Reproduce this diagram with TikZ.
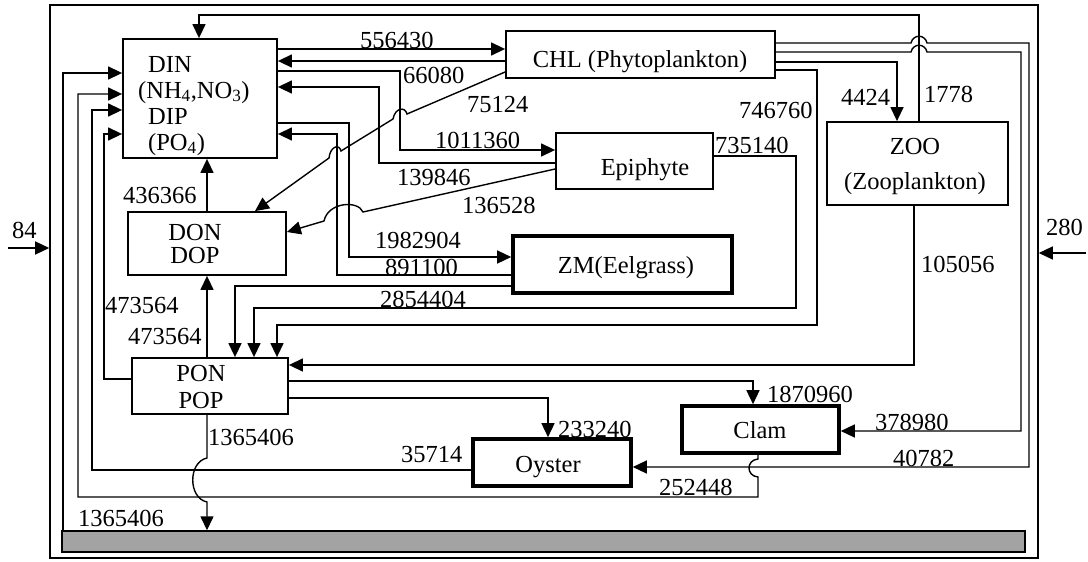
\documentclass[tikz,border=0pt]{standalone}
\usepackage{fontspec}
\setmainfont{Liberation Serif}
\usetikzlibrary{arrows.meta,calc}
\newcommand{\lblfont}{\fontsize{24.5}{28}\selectfont}
\begin{document}
\begin{tikzpicture}[x=1pt,y=-1pt,
  box/.style={draw,line width=1.8pt,inner sep=0pt},
  thickbox/.style={box,line width=3.6pt},
  flow/.style={line width=1.4pt,-{Triangle[length=14pt,width=13pt]}},
  lab/.style={anchor=base west,inner sep=0pt,font=\lblfont},
  txt/.style={anchor=base,inner sep=0pt,font=\lblfont},
  txtw/.style={anchor=base west,inner sep=0pt,font=\lblfont},
  txtm/.style={anchor=center,inner sep=0pt,align=center}]
\useasboundingbox (0,0) rectangle (1088,562);
% frame and sediment
\node[draw,line width=1.6pt,minimum width=988pt,minimum height=553pt,inner sep=0pt] (frame) at (544,281.5) {};
\node[draw,line width=1.4pt,fill=black!36,minimum width=963pt,minimum height=21pt,inner sep=0pt] (bar) at (543.5,541.5) {};
% boxes
\node[box,minimum width=154pt,minimum height=119pt] (din) at (200,98.5) {};
\node[box,minimum width=269pt,minimum height=47pt] (chl) at (640.5,54.5) {};
\node[box,minimum width=157pt,minimum height=56pt] (epi) at (634.5,161) {};
\node[thickbox,minimum width=219pt,minimum height=57pt] (zm) at (622.5,264.5) {};
\node[box,minimum width=181pt,minimum height=83pt] (zoo) at (917.5,163.5) {};
\node[box,minimum width=158pt,minimum height=63pt] (don) at (207,243.5) {};
\node[box,minimum width=156pt,minimum height=56pt] (pon) at (210,386) {};
\node[thickbox,minimum width=157pt,minimum height=47pt] (clam) at (760.5,429.5) {};
\node[thickbox,minimum width=158pt,minimum height=47pt] (oyster) at (552,462.5) {};
% box texts
\node[txtw] (dinA) at (148,72) {DIN};
\node[txtw] (dinB) at (138,98) {(NH\textsubscript{4},NO\textsubscript{3})};
\node[txtw] (dinC) at (148,124) {DIP};
\node[txtw] (dinD) at (148,150) {(PO\textsubscript{4})};
\node[txt] (chlT) at (640,67) {CHL (Phytoplankton)};
\node[txt] (epiT) at (645,175) {Epiphyte};
\node[txt] (zmT) at (626,273) {ZM(Eelgrass)};
\node[txtm,font=\fontsize{24.5}{35}\selectfont] (zooT) at (915,166.5) {ZOO\\(Zooplankton)};
\node[txtm,font=\fontsize{24.5}{23.5}\selectfont] (donT) at (195,244) {DON\\DOP};
\node[txtm,font=\fontsize{24.5}{27}\selectfont] (ponT) at (201,387) {PON\\POP};
\node[txt] (clamT) at (760,438) {Clam};
\node[txt] (oysT) at (548,472) {Oyster};
% connectors
\draw[flow] (din.east |- 0,49) -- (chl.west |- 0,49);
\draw[flow] (chl.west |- 0,61) -- (din.east |- 0,61);
\draw[flow] (din.east |- 0,71) -| (400,150) -- (epi.west |- 0,150);
\draw[flow] (epi.west |- 0,163) -| (379,87) -- (din.east |- 0,87);
\draw[flow] (din.east |- 0,123) -| (349,257) -- (zm.west |- 0,257);
\draw[flow] (zm.west |- 0,275) -| (337,134) -- (din.east |- 0,134);
\draw[flow] (zm.west |- 0,286) -| (pon.north -| 235,0);
\draw[flow] (epi.east |- 0,156) -| (796,308) -| (pon.north -| 254,0);
\draw[flow] (chl.east |- 0,70) -| (817,325) -| (pon.north -| 277,0);
\draw[flow] (zoo.south -| 914,0) |- (pon.east |- 0,365);
\draw[flow] (pon.east |- 0,381) -| (clam.north -| 753,0);
\draw[flow] (pon.east |- 0,398) -| (oyster.north -| 548,0);
\draw[flow] (clam.south -| 758,0) -- (758,459) .. controls (746,460) and (746,476) .. (758,477) |- (78,497) |- (din.west |- 0,94);
\draw[flow] (oyster.west |- 0,470) -| (92,110) -- (din.west |- 0,110);
\draw[flow] (pon.west |- 0,379) -| (104,134) -- (din.west |- 0,134);
\draw[flow] (bar.north -| 63,0) |- (din.west |- 0,73);
\draw[flow] (pon.north -| 207,0) -- (don.south -| 207,0);
\draw[flow] (don.north -| 207,0) -- (din.south -| 207,0);
\draw[flow] (pon.south -| 207,0) -- (207,458) .. controls (188,462) and (188,498) .. (207,502) -- (bar.north -| 207,0);
\draw[flow] (chl.west |- 0,72) -- (407,114) .. controls (405,106) and (395,108) .. (393,119) -- (341,151) .. controls (339,143) and (330,147) .. (329,158) -- (don.north -| 255,0);
\draw[flow] (epi.west |- 0,169) -- (363,212) .. controls (358,200) and (328,202) .. (324,221) -- (don.east |- 0,232);
\draw[flow] (chl.east |- 0,62) -| (zoo.north -| 897,0);
\draw[flow] (chl.east |- 0,52) -- (911,52) .. controls (913,43) and (925,43) .. (927,52) -| (1021,431) -- (clam.east |- 0,431);
\draw[flow] (chl.east |- 0,43) -- (911,43) .. controls (913,34) and (925,34) .. (927,43) -| (1029,467) -- (oyster.east |- 0,467);
\draw[flow] (zoo.north -| 919,0) -- (919,15) -| (din.north -| 199,0);
\coordinate (in84) at (8,248);
\coordinate (in280) at (1086,253);
\draw[flow] (in84) -- (frame.west |- 0,248);
\draw[flow] (in280) -- (frame.east |- 0,253);
% flow labels
\node[lab] (l1) at (360,48) {556430};
\node[lab] (l2) at (403,83) {66080};
\node[lab] (l3) at (467,112) {75124};
\node[lab] (l4) at (435,148) {1011360};
\node[lab] (l5) at (397,185) {139846};
\node[lab] (l6) at (462,213) {136528};
\node[lab] (l7) at (375,248) {1982904};
\node[lab] (l8) at (385,275) {891100};
\node[lab] (l9) at (380,307) {2854404};
\node[lab] (l10) at (739,118) {746760};
\node[lab] (l11) at (715,153) {735140};
\node[lab] (l12) at (841,105) {4424};
\node[lab] (l13) at (924,102) {1778};
\node[lab] (l14) at (921,272) {105056};
\node[lab] (l15) at (1046,235) {280};
\node[lab] (l16) at (12,238) {84};
\node[lab] (l17) at (123,203) {436366};
\node[lab] (l18) at (105,313) {473564};
\node[lab] (l19) at (128,344) {473564};
\node[lab] (l20) at (208,445) {1365406};
\node[lab] (l21) at (78,526) {1365406};
\node[lab] (l22) at (558,437) {233240};
\node[lab] (l23) at (767,402) {1870960};
\node[lab] (l24) at (875,430) {378980};
\node[lab] (l25) at (893,466) {40782};
\node[lab] (l26) at (401,462) {35714};
\node[lab] (l27) at (659,495) {252448};
\end{tikzpicture}
\end{document}
